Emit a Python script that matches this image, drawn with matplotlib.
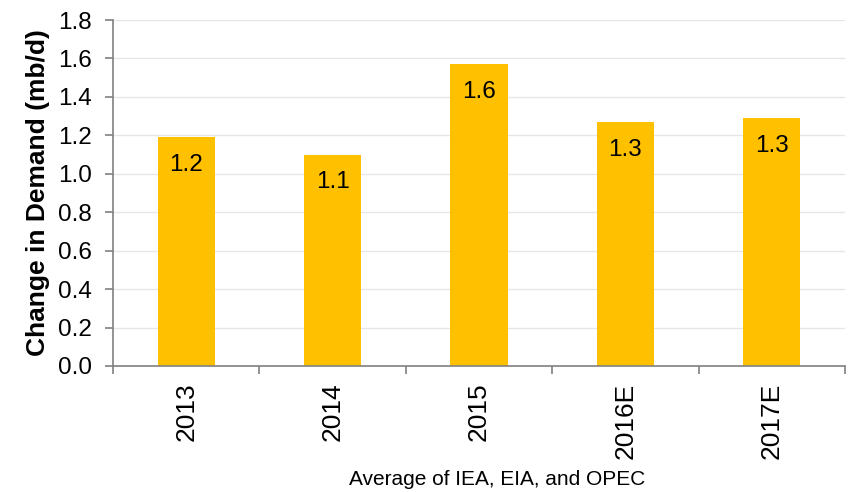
import matplotlib.pyplot as plt

plt.rcParams['font.family'] = ['Liberation Sans', 'DejaVu Sans']

# data
years = ["2013", "2014", "2015", "2016E", "2017E"]
demand = [1.19, 1.10, 1.57, 1.27, 1.29]
labels = ["1.2", "1.1", "1.6", "1.3", "1.3"]

fig = plt.figure(figsize=(8.54, 4.92), dpi=100)
ax = fig.add_axes([0.1323, 0.2561, 0.8572, 0.7032])

x = list(range(len(years)))
bars = ax.bar(x, demand, width=0.39, color="#FFC000", zorder=2)

# value labels inside bars, near the top
for xi, v, lab in zip(x, demand, labels):
    ax.annotate(lab, (xi, v), xytext=(0, -20), textcoords="offset points",
                ha="center", va="center", fontsize=17.5, color="black", zorder=3)

ax.set_xlim(-0.5, len(years) - 0.5)
ax.set_ylim(0, 1.8)
ax.set_yticks([i * 0.2 for i in range(10)])
ax.set_yticklabels([f"{i * 0.2:.1f}" for i in range(10)], fontsize=17.5)

# category labels, ticks on the boundaries
ax.set_xticks(x)
ax.set_xticklabels(years, rotation=90, fontsize=19)
ax.tick_params(axis="x", which="major", length=0, pad=12)
ax.set_xticks([i - 0.5 for i in range(len(years) + 1)], minor=True)
ax.tick_params(axis="x", which="minor", length=6, color="#808080", width=1.2)
ax.tick_params(axis="y", length=6, color="#808080", width=1.2, pad=9)

ax.grid(axis="y", color="#E6E6E6", linewidth=1, zorder=0)
for s in ["top", "right"]:
    ax.spines[s].set_visible(False)
for s in ["left", "bottom"]:
    ax.spines[s].set_color("#808080")
    ax.spines[s].set_linewidth(1.2)

ax.set_ylabel("Change in Demand (mb/d)", fontsize=19, fontweight="bold", labelpad=6)
ax.set_xlabel("Average of IEA, EIA, and OPEC", fontsize=15)
ax.xaxis.set_label_coords(0.525, -0.30)

fig.savefig("out.png", dpi=100)
